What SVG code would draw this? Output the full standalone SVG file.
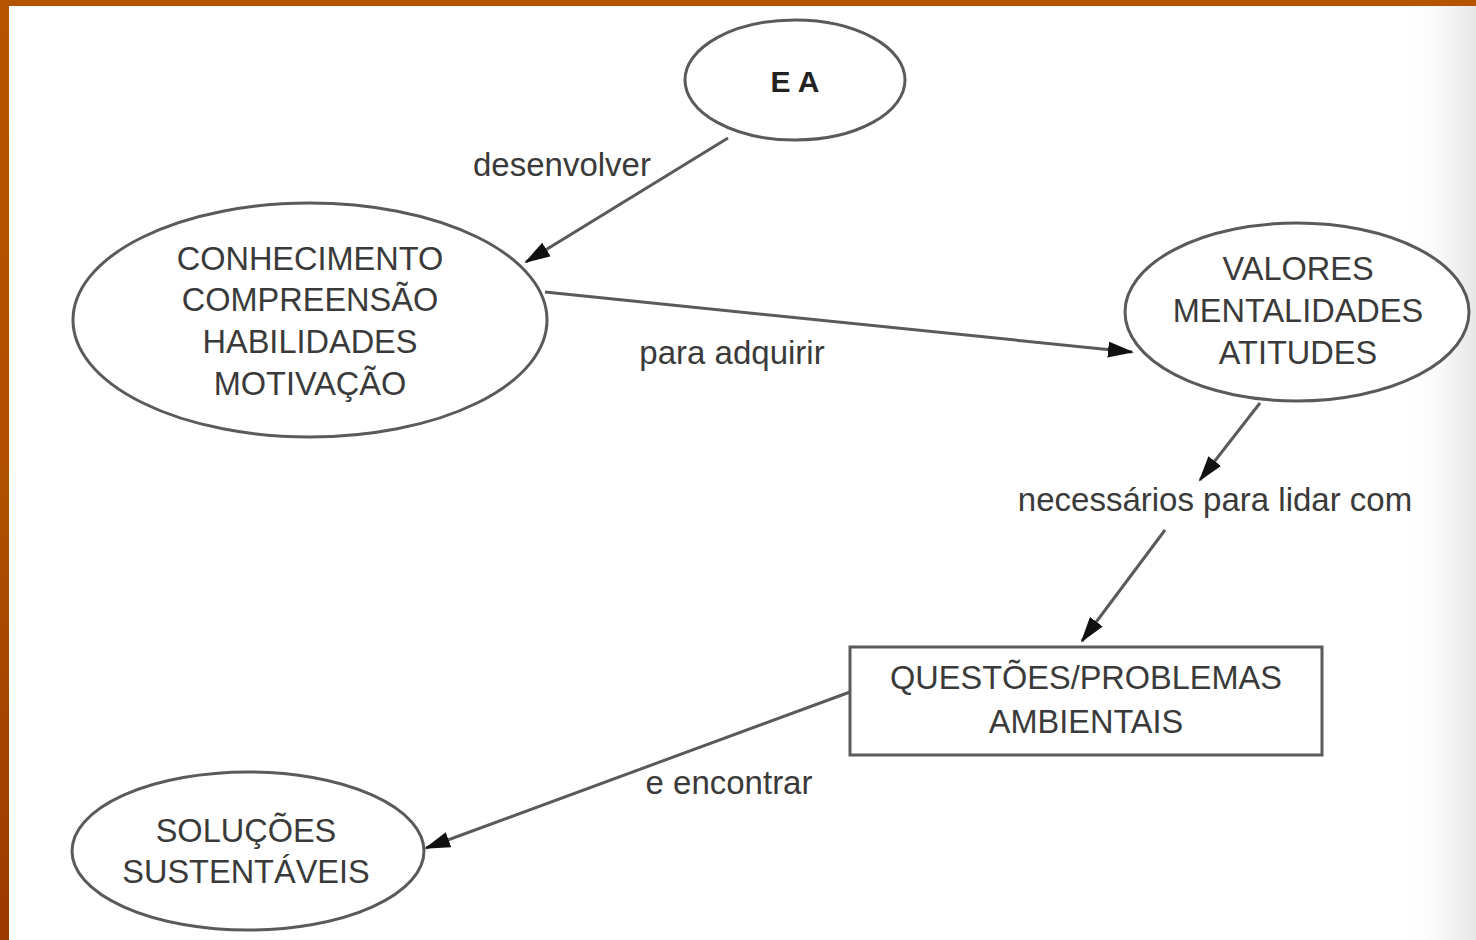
<svg xmlns="http://www.w3.org/2000/svg" width="1476" height="940" viewBox="0 0 1476 940">
  <defs>
    <linearGradient id="edge" x1="0" y1="0" x2="1" y2="0">
      <stop offset="0" stop-color="#ffffff" stop-opacity="0"/>
      <stop offset="1" stop-color="#e6e6e6"/>
    </linearGradient>
    <linearGradient id="orangeL" x1="0" y1="0" x2="0" y2="1">
      <stop offset="0" stop-color="#b45400"/>
      <stop offset="0.5" stop-color="#b05000"/>
      <stop offset="1" stop-color="#9c3a00"/>
    </linearGradient>
    <marker id="arrow" viewBox="0 0 26 16" refX="24" refY="8" markerWidth="26" markerHeight="16" markerUnits="userSpaceOnUse" orient="auto">
      <path d="M0,0 L26,8 L0,16 Z" fill="#111"/>
    </marker>
    <style>
      .shape { fill: #ffffff; stroke: #5a5a5a; stroke-width: 3; }
      .node-text { font-family: "Liberation Sans", Arial, sans-serif; font-size: 32.5px; fill: #3a3a3a; text-anchor: middle; }
      .label { font-family: "Liberation Sans", Arial, sans-serif; font-size: 33px; fill: #3a3a3a; text-anchor: middle; }
      .conn { fill: none; stroke: #5a5a5a; stroke-width: 3; }
    </style>
  </defs>

  <rect x="0" y="0" width="1476" height="940" fill="#ffffff"/>
  <rect x="1400" y="0" width="76" height="940" fill="url(#edge)"/>
  <rect x="0" y="0" width="1476" height="6" fill="#b45400"/>
  <rect x="0" y="0" width="9" height="940" fill="url(#orangeL)"/>

  <g id="connectors">
    <line class="conn" x1="728" y1="138" x2="526" y2="262" marker-end="url(#arrow)"/>
    <line class="conn" x1="545" y1="292" x2="1132" y2="352" marker-end="url(#arrow)"/>
    <line class="conn" x1="1260" y1="403" x2="1200" y2="480" marker-end="url(#arrow)"/>
    <line class="conn" x1="1165" y1="530" x2="1082" y2="641" marker-end="url(#arrow)"/>
    <line class="conn" x1="850" y1="692" x2="426" y2="848" marker-end="url(#arrow)"/>
    <text class="label" x="562" y="176">desenvolver</text>
    <text class="label" x="732" y="364">para adquirir</text>
    <text class="label" x="1215" y="511">necessários para lidar com</text>
    <text class="label" x="729" y="794">e encontrar</text>
  </g>

  <g id="ea">
    <ellipse class="shape" cx="795" cy="80" rx="110" ry="60"/>
    <text x="795" y="92" font-family="Liberation Sans, Arial, sans-serif" font-size="30" font-weight="bold" fill="#222" text-anchor="middle">E A</text>
  </g>

  <g id="conhecimento">
    <ellipse class="shape" cx="310" cy="320" rx="237" ry="117"/>
    <text class="node-text" x="310" y="270">CONHECIMENTO</text>
    <text class="node-text" x="310" y="311">COMPREENSÃO</text>
    <text class="node-text" x="310" y="353">HABILIDADES</text>
    <text class="node-text" x="310" y="395">MOTIVAÇÃO</text>
  </g>

  <g id="valores">
    <ellipse class="shape" cx="1297" cy="312" rx="172" ry="89"/>
    <text class="node-text" x="1298" y="280">VALORES</text>
    <text class="node-text" x="1298" y="322">MENTALIDADES</text>
    <text class="node-text" x="1298" y="364">ATITUDES</text>
  </g>

  <g id="questoes">
    <rect class="shape" x="850" y="647" width="472" height="108"/>
    <text class="node-text" x="1086" y="689">QUESTÕES/PROBLEMAS</text>
    <text class="node-text" x="1086" y="733">AMBIENTAIS</text>
  </g>

  <g id="solucoes">
    <ellipse class="shape" cx="248" cy="851" rx="176" ry="79"/>
    <text class="node-text" x="246" y="842">SOLUÇÕES</text>
    <text class="node-text" x="246" y="883">SUSTENTÁVEIS</text>
  </g>
</svg>
